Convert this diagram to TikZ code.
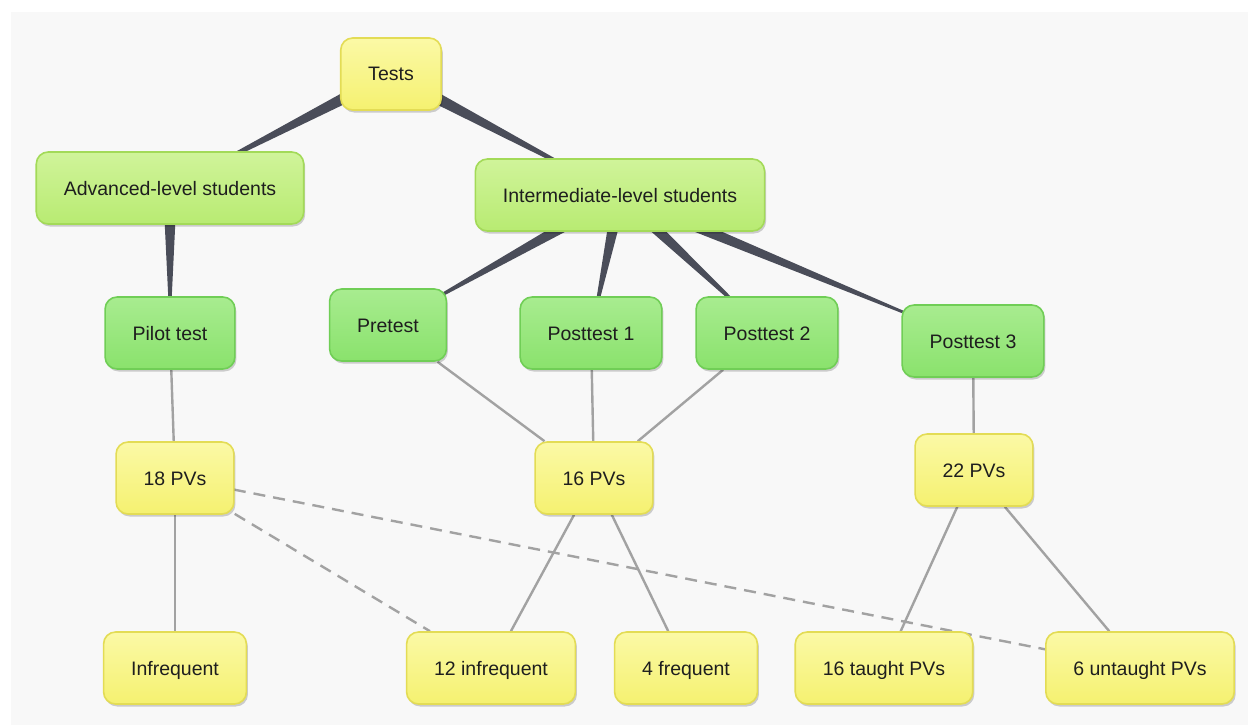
\documentclass[tikz,border=0pt]{standalone}
\usepackage{fontspec}
\setmainfont{Liberation Sans}
\usetikzlibrary{calc,shadows}
\pgfdeclarelayer{bg}
\pgfdeclarelayer{edges}
\pgfsetlayers{bg,edges,main}
\definecolor{bgcol}{HTML}{F8F8F8}
\definecolor{yelF}{HTML}{F5F170}
\definecolor{yelT}{HTML}{FBF9A6}
\definecolor{yelB}{HTML}{E3DC55}
\definecolor{limF}{HTML}{B8EB72}
\definecolor{limT}{HTML}{D0F49A}
\definecolor{limB}{HTML}{A3DA58}
\definecolor{grnF}{HTML}{8AE26C}
\definecolor{grnT}{HTML}{A8EC90}
\definecolor{grnB}{HTML}{70CE56}
\definecolor{wedgecol}{HTML}{4A4D59}
\definecolor{linecol}{HTML}{A2A2A2}
\definecolor{txtcol}{HTML}{1E1E1E}
\tikzset{
  box/.style={rounded corners=12pt, minimum height=72pt, inner xsep=27.5pt,
    text height=18pt, text depth=4pt, line width=1.6pt, text=txtcol,
    font=\fontsize{19.5}{23}\selectfont,
    drop shadow={shadow xshift=1.5pt, shadow yshift=-2.5pt, opacity=0.18, fill=black}},
  yel/.style={box, draw=yelB, top color=yelT, bottom color=yelF},
  lim/.style={box, draw=limB, top color=limT, bottom color=limF},
  grn/.style={box, draw=grnB, top color=grnT, bottom color=grnF},
  conn/.style={draw=linecol, line width=2.4pt},
  dconn/.style={draw=linecol, line width=2.4pt, dash pattern=on 12pt off 8pt},
}
\newcommand\wedgeconn[2]{\fill[wedgecol] ($(#1.center)!7pt!90:(#2.center)$) -- ($(#1.center)!7pt!-90:(#2.center)$) -- (#2.center) -- cycle;}
\begin{document}
\begin{tikzpicture}[x=1pt,y=-1pt]
\useasboundingbox (0,0) rectangle (1248,725);
\begin{pgfonlayer}{bg}
\fill[white] (0,0) rectangle (1248,725);
\fill[bgcol] (11,12) rectangle (1248,725);
\end{pgfonlayer}

\node[yel] (tests) at (391,74) {Tests};
\node[lim] (adv) at (170,188) {Advanced-level students};
\node[lim] (int) at (620,195) {Intermediate-level students};
\node[grn] (pilot) at (170,333) {Pilot test};
\node[grn] (pre) at (388,325) {Pretest};
\node[grn] (p1) at (591,333) {Posttest 1};
\node[grn] (p2) at (767,333) {Posttest 2};
\node[grn] (p3) at (973,341) {Posttest 3};
\node[yel] (pv18) at (175,478) {18 PVs};
\node[yel] (pv16) at (594,478) {16 PVs};
\node[yel] (pv22) at (974,470) {22 PVs};
\node[yel] (infr) at (175,668) {Infrequent};
\node[yel] (inf12) at (491,668) {12 infrequent};
\node[yel] (fr4) at (686,668) {4 frequent};
\node[yel] (taught) at (884,668) {16 taught PVs};
\node[yel] (untaught) at (1140,668) {6 untaught PVs};

\begin{pgfonlayer}{edges}
\wedgeconn{tests}{adv}
\wedgeconn{tests}{int}
\wedgeconn{adv}{pilot}
\wedgeconn{int}{pre}
\wedgeconn{int}{p1}
\wedgeconn{int}{p2}
\wedgeconn{int}{p3}
\draw[conn] (pilot) -- (pv18);
\draw[conn] (pre) -- (pv16);
\draw[conn] (p1) -- (pv16);
\draw[conn] (p2) -- (pv16);
\draw[conn] (p3) -- (pv22);
\draw[conn] (pv18) -- (infr);
\draw[conn] (pv16) -- (inf12);
\draw[conn] (pv16) -- (fr4);
\draw[conn] (pv22) -- (taught);
\draw[conn] (pv22) -- (untaught);
\draw[dconn] (pv18) -- (inf12);
\draw[dconn] (pv18.center) -- (untaught.center);
\end{pgfonlayer}
\end{tikzpicture}
\end{document}
